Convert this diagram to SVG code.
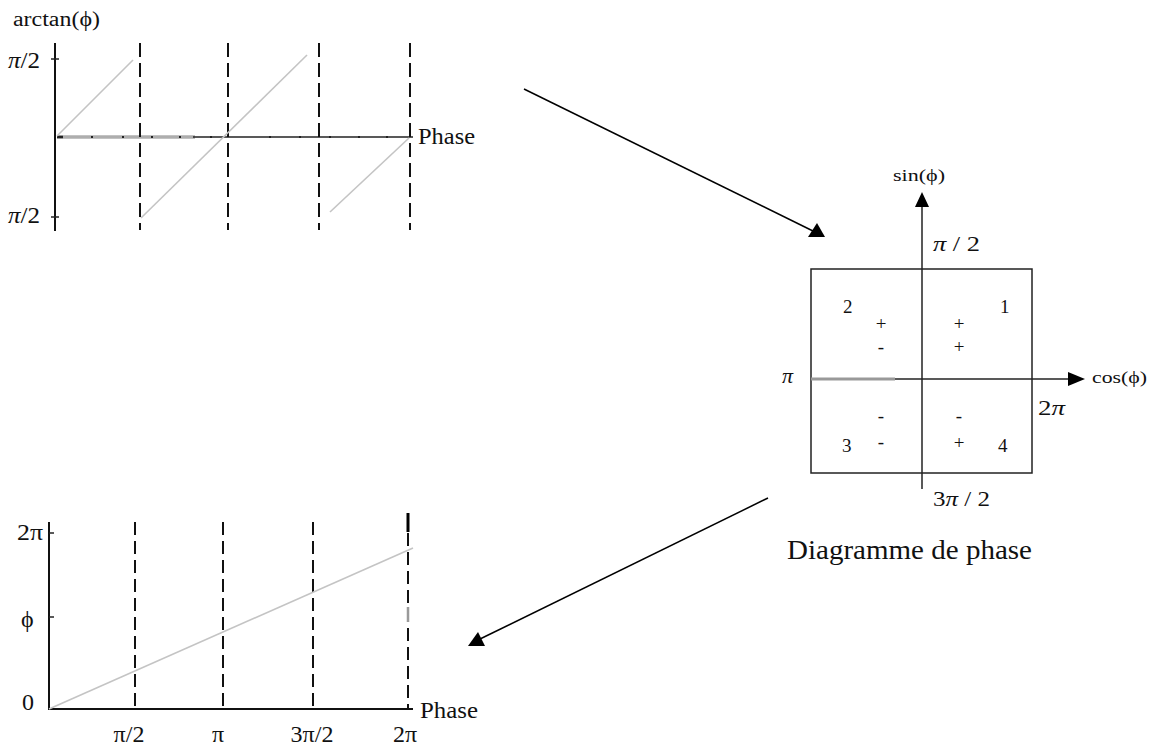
<svg xmlns="http://www.w3.org/2000/svg" width="1158" height="747" viewBox="0 0 1158 747">
<style>
text{font-family:"Liberation Serif","Times New Roman",serif;fill:#111;}
.ax{stroke:#111;stroke-width:2;fill:none;}
.thin{stroke:#222;stroke-width:1.5;fill:none;}
.dash{stroke:#111;stroke-width:2;stroke-dasharray:14 6;fill:none;}
.curve{stroke:#c4c4c4;stroke-width:1.6;fill:none;}
.band{stroke:#c2c2c2;stroke-width:4;fill:none;}
.lbl{font-size:24px;}
.pd{font-size:22px;}
.sm{font-size:19px;}
.sg{font-size:17px;}
.pm{font-size:19px;}
.dot{fill:#222;}
.head{fill:#000;}
</style>
<rect width="1158" height="747" fill="#fff"/>

<g id="plot-arctan">
  <text x="13" y="26" style="font-size:20px" textLength="87" lengthAdjust="spacingAndGlyphs">arctan(ϕ)</text>
  <text x="8" y="68" class="lbl" textLength="32" lengthAdjust="spacingAndGlyphs"><tspan font-style="italic">π</tspan>/2</text>
  <text x="8" y="223" class="lbl" textLength="32" lengthAdjust="spacingAndGlyphs"><tspan font-style="italic">π</tspan>/2</text>
  <line class="ax" x1="55" y1="43" x2="55" y2="231"/>
  <line class="thin" x1="51" y1="59" x2="59" y2="59"/>
  <line class="thin" x1="51" y1="217" x2="59" y2="217"/>
  <line class="band" x1="57" y1="137" x2="195" y2="137"/>
  <line x1="57" y1="137" x2="195" y2="137" stroke="#999" stroke-width="1"/>
  <line class="thin" x1="193" y1="137" x2="413" y2="137"/>
  <line class="thin" x1="57" y1="137" x2="63" y2="137" style="stroke-width:2.5"/>
  <g class="dot">
    <rect x="91" y="136" width="2" height="2"/><rect x="122" y="136" width="2" height="2"/>
    <rect x="151" y="136" width="2" height="2"/><rect x="179" y="136" width="2" height="2"/>
    <rect x="210" y="136" width="2" height="2"/><rect x="269" y="136" width="2" height="2"/>
    <rect x="299" y="136" width="2" height="2"/><rect x="329" y="136" width="2" height="2"/>
    <rect x="358" y="136" width="2" height="2"/><rect x="386" y="136" width="2" height="2"/>
  </g>
  <line class="dash" x1="140" y1="43" x2="140" y2="230"/>
  <line class="dash" x1="228" y1="43" x2="228" y2="230"/>
  <line class="dash" x1="319" y1="43" x2="319" y2="230"/>
  <line class="dash" x1="410" y1="43" x2="410" y2="230"/>
  <line class="curve" x1="57" y1="136" x2="133" y2="60"/>
  <line class="curve" x1="141" y1="218" x2="307" y2="55"/>
  <line class="curve" x1="330" y1="212" x2="409" y2="138"/>
  <text x="418" y="144" class="lbl" textLength="57" lengthAdjust="spacingAndGlyphs">Phase</text>
</g>

<g id="plot-phase">
  <text x="17" y="540" class="lbl" textLength="26" lengthAdjust="spacingAndGlyphs">2π</text>
  <text x="21" y="627" class="lbl">ϕ</text>
  <text x="22" y="710" class="lbl">0</text>
  <line class="ax" x1="49" y1="522" x2="49" y2="710"/>
  <line class="ax" x1="48" y1="709" x2="413" y2="709"/>
  <line class="thin" x1="49" y1="533" x2="54" y2="533"/>
  <line class="thin" x1="49" y1="617" x2="54" y2="617"/>
  <line class="dash" x1="135" y1="522" x2="135" y2="709" style="stroke-dasharray:13 6"/>
  <line class="dash" x1="223" y1="522" x2="223" y2="709" style="stroke-dasharray:13 6"/>
  <line class="dash" x1="313" y1="522" x2="313" y2="709" style="stroke-dasharray:13 6"/>
  <line class="dash" x1="408" y1="533" x2="408" y2="709" style="stroke-dasharray:13 6"/>
  <line x1="408" y1="513" x2="408" y2="532" stroke="#000" stroke-width="3"/>
  <line class="curve" x1="49" y1="709" x2="413" y2="548"/>
  <line x1="408" y1="607" x2="408" y2="622" stroke="#9a9a9a" stroke-width="2.5"/>
  <text x="420" y="718" class="lbl" textLength="58" lengthAdjust="spacingAndGlyphs">Phase</text>
  <text x="129" y="742" class="lbl" text-anchor="middle">π/2</text>
  <text x="218" y="742" class="lbl" text-anchor="middle">π</text>
  <text x="312" y="742" class="lbl" text-anchor="middle">3π/2</text>
  <text x="405" y="742" class="lbl" text-anchor="middle">2π</text>
</g>

<g id="phase-diagram">
  <rect x="811" y="269" width="221" height="204" class="thin"/>
  <line class="thin" x1="922" y1="200" x2="922" y2="489"/>
  <polygon class="head" points="922,192 915,207 929,207"/>
  <line x1="811" y1="379" x2="895" y2="379" stroke="#999" stroke-width="3"/>
  <line class="thin" x1="895" y1="379" x2="1072" y2="379"/>
  <polygon class="head" points="1085,379 1068,372 1068,386"/>
  <text x="893" y="181" class="sg" textLength="52" lengthAdjust="spacingAndGlyphs">sin(ϕ)</text>
  <text x="1092" y="383" class="sg" textLength="55" lengthAdjust="spacingAndGlyphs">cos(ϕ)</text>
  <text x="933" y="251" class="pd" textLength="47" lengthAdjust="spacingAndGlyphs"><tspan font-style="italic">π</tspan> / 2</text>
  <text x="782" y="383" class="pd" font-style="italic">π</text>
  <text x="1038" y="415" class="pd" textLength="27" lengthAdjust="spacingAndGlyphs">2<tspan font-style="italic">π</tspan></text>
  <text x="933" y="506" class="pd" textLength="57" lengthAdjust="spacingAndGlyphs">3<tspan font-style="italic">π</tspan> / 2</text>
  <text x="843" y="313" class="sm">2</text>
  <text x="1000" y="313" class="sm">1</text>
  <text x="842" y="452" class="sm">3</text>
  <text x="998" y="452" class="sm">4</text>
  <g class="pm" text-anchor="middle">
    <text x="881" y="330">+</text>
    <text x="881" y="353">-</text>
    <text x="959" y="330">+</text>
    <text x="959" y="353">+</text>
    <text x="881" y="422">-</text>
    <text x="881" y="448">-</text>
    <text x="959" y="422">-</text>
    <text x="959" y="449">+</text>
  </g>
</g>

<g id="caption">
  <text x="787" y="559" style="font-size:28px" textLength="245" lengthAdjust="spacingAndGlyphs">Diagramme de phase</text>
</g>

<g id="connectors">
  <line x1="524" y1="89" x2="815" y2="232" stroke="#000" stroke-width="1.5"/>
  <polygon class="head" points="808,237 825,237 817,223"/>
  <line x1="768" y1="498" x2="480" y2="639" stroke="#000" stroke-width="1.5"/>
  <polygon class="head" points="468,646 485,646 478,632"/>
</g>
</svg>
